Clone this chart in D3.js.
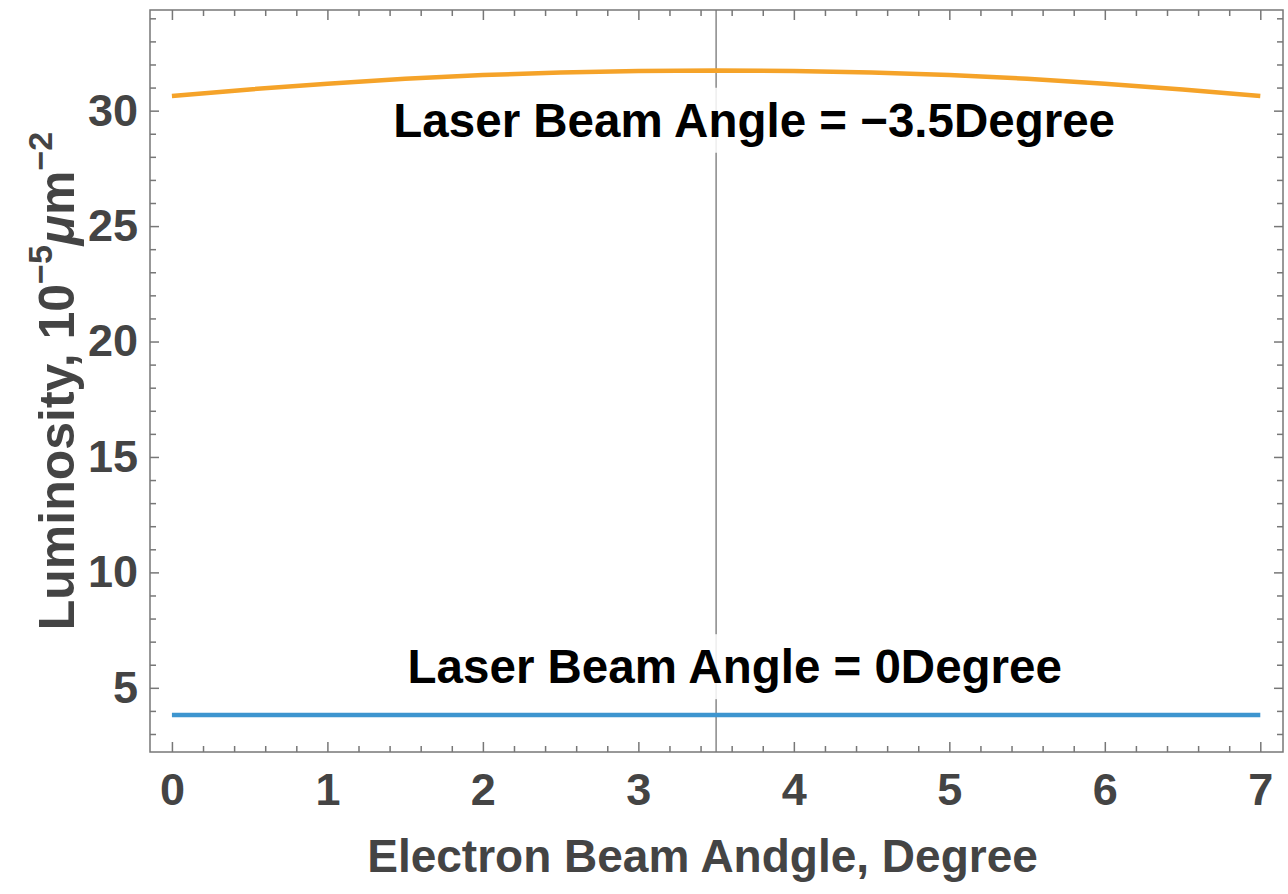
<!DOCTYPE html>
<html>
<head>
<meta charset="utf-8">
<script src="https://cdn.jsdelivr.net/npm/d3@7"></script>
<style>
  body { margin: 0; background: #fff; }
  text { font-family: "Liberation Sans", Arial, sans-serif; font-weight: bold; }
</style>
</head>
<body>
<div id="chart"></div>
<script>
// Data
const angles = [0, 0.5, 1, 1.5, 2, 2.5, 3, 3.5, 4, 4.5, 5, 5.5, 6, 6.5, 7];
const lumTilted = [30.63, 30.92, 31.17, 31.38, 31.54, 31.65, 31.72, 31.74, 31.72, 31.65, 31.54, 31.38, 31.17, 30.92, 30.63];
const lumZero = [3.82, 3.82, 3.82, 3.82, 3.82, 3.82, 3.82, 3.82, 3.82, 3.82, 3.82, 3.82, 3.82, 3.82, 3.82];
const xTicks = [0, 1, 2, 3, 4, 5, 6, 7];
const yTicks = [5, 10, 15, 20, 25, 30];
const markerAngle = 3.5;
const labelTexts = ["Laser Beam Angle = \u22123.5Degree", "Laser Beam Angle = 0Degree"];
const labelAngles = [3.745, 3.62];
const labelLums = [28.87, 5.2];

// Format container
const width = 1288, height = 894;
const margin = { top: 10, right: 5, bottom: 142, left: 150 };

const x = d3.scaleLinear().domain([-0.141, 7.146])
    .range([margin.left, width - margin.right]);
const y = d3.scaleLinear().domain([2.22, 34.36])
    .range([height - margin.bottom, margin.top]);

const svg = d3.select("#chart").append("svg")
    .attr("width", width)
    .attr("height", height);

const frameColor = "#777";
const labelColor = "#444";

// Vertical marker line
svg.append("line")
    .attr("x1", x(markerAngle)).attr("x2", x(markerAngle))
    .attr("y1", y.range()[1]).attr("y2", y.range()[0])
    .attr("stroke", "#888")
    .attr("stroke-width", 1.5);

// Minor tick values
const xMinor = d3.range(0, 7.01, 0.2).filter(v => Math.abs(v - Math.round(v)) > 1e-6);
const yMinor = d3.range(3, 34.5, 1).filter(v => v % 5 !== 0);

const styleAxis = g => {
    g.select(".domain").remove();
    g.selectAll(".tick line").attr("stroke", frameColor).attr("stroke-width", 1.5);
    g.selectAll(".tick text")
        .attr("fill", labelColor)
        .attr("font-size", 45)
        .attr("font-family", "'Liberation Sans', Arial, sans-serif")
        .attr("font-weight", "bold");
};

// Bottom axis
svg.append("g")
    .attr("transform", `translate(0,${y.range()[0]})`)
    .call(d3.axisBottom(x).tickValues(xTicks).tickSize(-10).tickPadding(21).tickFormat(d3.format("d")))
    .call(styleAxis);
svg.append("g")
    .attr("transform", `translate(0,${y.range()[0]})`)
    .call(d3.axisBottom(x).tickValues(xMinor).tickSize(-6).tickFormat(""))
    .call(styleAxis);

// Top axis (mirror)
svg.append("g")
    .attr("transform", `translate(0,${y.range()[1]})`)
    .call(d3.axisTop(x).tickValues(xTicks).tickSize(-10).tickFormat(""))
    .call(styleAxis);
svg.append("g")
    .attr("transform", `translate(0,${y.range()[1]})`)
    .call(d3.axisTop(x).tickValues(xMinor).tickSize(-6).tickFormat(""))
    .call(styleAxis);

// Left axis
svg.append("g")
    .attr("transform", `translate(${x.range()[0]},0)`)
    .call(d3.axisLeft(y).tickValues(yTicks).tickSize(-9).tickPadding(12).tickFormat(d3.format("d")))
    .call(styleAxis);
svg.append("g")
    .attr("transform", `translate(${x.range()[0]},0)`)
    .call(d3.axisLeft(y).tickValues(yMinor).tickSize(-6).tickFormat(""))
    .call(styleAxis);

// Right axis (mirror)
svg.append("g")
    .attr("transform", `translate(${x.range()[1]},0)`)
    .call(d3.axisRight(y).tickValues(yTicks).tickSize(-9).tickFormat(""))
    .call(styleAxis);
svg.append("g")
    .attr("transform", `translate(${x.range()[1]},0)`)
    .call(d3.axisRight(y).tickValues(yMinor).tickSize(-6).tickFormat(""))
    .call(styleAxis);

// Frame
svg.append("rect")
    .attr("x", x.range()[0]).attr("y", y.range()[1])
    .attr("width", x.range()[1] - x.range()[0])
    .attr("height", y.range()[0] - y.range()[1])
    .attr("fill", "none")
    .attr("stroke", frameColor)
    .attr("stroke-width", 1.5);

// Annotations with white background
labelTexts.forEach((t, i) => {
    const g = svg.append("g");
    const txt = g.append("text")
        .attr("x", x(labelAngles[i]))
        .attr("y", y(labelLums[i]))
        .attr("text-anchor", "middle")
        .attr("font-size", 47.5)
        .attr("fill", "#000")
        .text(t);
    const bb = txt.node().getBBox();
    g.insert("rect", "text")
        .attr("x", bb.x - 4).attr("y", bb.y - 6)
        .attr("width", bb.width + 8).attr("height", bb.height + 12)
        .attr("fill", "#fff")
        .attr("fill-opacity", 0.85);
});

// Curves
const line = d3.line()
    .x((d, i) => x(angles[i]))
    .y(d => y(d))
    .curve(d3.curveNatural);

svg.append("path")
    .datum(lumTilted)
    .attr("d", line)
    .attr("fill", "none")
    .attr("stroke", "#F5A329")
    .attr("stroke-width", 4.5);

svg.append("path")
    .datum(lumZero)
    .attr("d", line)
    .attr("fill", "none")
    .attr("stroke", "#3D95CF")
    .attr("stroke-width", 4.5);

// X axis title
svg.append("text")
    .attr("x", (x.range()[0] + x.range()[1]) / 2 - 14)
    .attr("y", 872)
    .attr("text-anchor", "middle")
    .attr("font-size", 46)
    .attr("fill", labelColor)
    .text("Electron Beam Andgle, Degree");

// Y axis title
const yTitle = svg.append("text")
    .attr("transform", `translate(74,${(y.range()[0] + y.range()[1]) / 2}) rotate(-90)`)
    .attr("text-anchor", "middle")
    .attr("font-size", 50)
    .attr("fill", labelColor);
yTitle.append("tspan").text("Luminosity, 10");
yTitle.append("tspan").attr("font-size", 34).attr("dy", -22).text("\u22125");
yTitle.append("tspan").attr("dy", 22).attr("font-style", "italic").text("\u03bc");
yTitle.append("tspan").text("m");
yTitle.append("tspan").attr("font-size", 34).attr("dy", -22).text("\u22122");
</script>
</body>
</html>
